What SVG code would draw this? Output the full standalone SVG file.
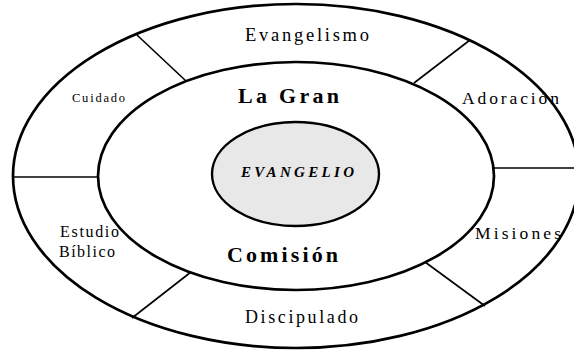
<svg xmlns="http://www.w3.org/2000/svg" width="574" height="351" viewBox="0 0 574 351">
<style>
.ring{fill:none;stroke:#000;stroke-width:2.7}
.core{fill:#e8e8e8;stroke:#000;stroke-width:2.4}
.div{stroke:#000;stroke-width:1.6;fill:none}
text{font-family:"Liberation Serif","Times New Roman",serif;fill:#000}
.lbl{font-size:17.5px}
.big{font-size:22px;font-weight:bold}
.core-t{font-size:15px;font-weight:bold;font-style:italic}
</style>
<rect width="574" height="351" fill="#fff"/>
<g id="outer-ring">
<ellipse class="ring" cx="296" cy="176" rx="283" ry="172"/>
</g>
<g id="middle-ring">
<ellipse class="ring" cx="296" cy="176" rx="198" ry="114"/>
</g>
<g id="connectors">
<line class="div" x1="137" y1="35" x2="186" y2="81"/>
<line class="div" x1="470" y1="40" x2="414" y2="83"/>
<line class="div" x1="494" y1="168" x2="574" y2="168"/>
<line class="div" x1="13" y1="177" x2="98" y2="177"/>
<line class="div" x1="132" y1="318" x2="191" y2="272"/>
<line class="div" x1="425" y1="262" x2="485" y2="306"/>
</g>
<g id="evangelio">
<ellipse class="core" cx="295.5" cy="174" rx="83.5" ry="52"/>
<text class="core-t" x="241" y="177" textLength="113" lengthAdjust="spacing">EVANGELIO</text>
</g>
<g id="gran-comision">
<text class="big" x="238" y="103" textLength="101" lengthAdjust="spacing">La Gran</text>
<text class="big" x="227" y="262" textLength="111" lengthAdjust="spacing">Comisión</text>
</g>
<g id="evangelismo">
<text class="lbl" style="font-size:18.5px" x="245" y="41" textLength="124" lengthAdjust="spacing">Evangelismo</text>
</g>
<g id="adoracion">
<text class="lbl" x="462" y="104" textLength="97" lengthAdjust="spacing">Adoración</text>
</g>
<g id="misiones">
<text class="lbl" x="475" y="239" textLength="86" lengthAdjust="spacing">Misiones</text>
</g>
<g id="discipulado">
<text class="lbl" style="font-size:18px" x="245" y="323" textLength="113" lengthAdjust="spacing">Discipulado</text>
</g>
<g id="estudio-biblico">
<text class="lbl" style="font-size:16px" x="60" y="237" textLength="59" lengthAdjust="spacing">Estudio</text>
<text class="lbl" style="font-size:16px" x="59" y="257" textLength="56" lengthAdjust="spacing">Bíblico</text>
</g>
<g id="cuidado">
<text class="lbl" style="font-size:12.5px" x="72" y="102" textLength="53" lengthAdjust="spacing">Cuidado</text>
</g>
</svg>
